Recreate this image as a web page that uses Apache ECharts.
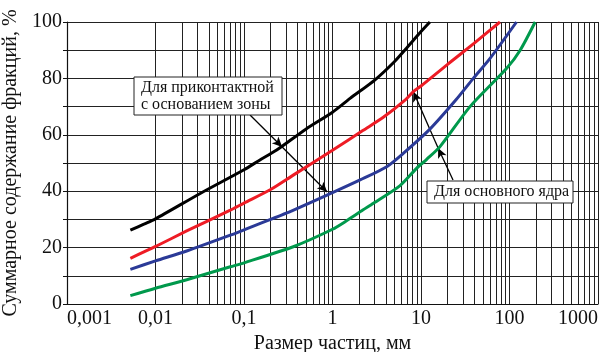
<!DOCTYPE html>
<html>
<head>
<meta charset="utf-8">
<script src="https://cdn.jsdelivr.net/npm/echarts@6/dist/echarts.min.js"></script>
<style>
html,body{margin:0;padding:0;background:#fff;}
#c{width:608px;height:352px;}
</style>
</head>
<body>
<div id="c"></div>
<script>
// ---- data ----
var xTickLabels = ['0,001', '0,01', '0,1', '1', '10', '100', '1000'];
var yTickLabels = ['0', '20', '40', '60', '80', '100'];

var blackX = [0.0052, 0.0075, 0.01, 0.032, 0.1, 0.15, 0.234, 0.5, 1, 1.58, 3, 5, 6.9, 10, 12.6];
var blackY = [26.2, 28.4, 30.2, 39.2, 47.6, 51.0, 54.6, 62.0, 68.0, 72.9, 79.4, 85.9, 90.8, 96.6, 100];

var redX = [0.0052, 0.01, 0.0225, 0.07, 0.1, 0.2, 0.36, 1, 2.2, 3.75, 6.6, 8.2, 10, 20, 40, 78];
var redY = [16.2, 20.4, 25.9, 33.3, 35.8, 40.6, 45.7, 54.5, 61.5, 66.2, 72.3, 75.3, 77.3, 85.0, 92.5, 100];

var blueX = [0.0052, 0.01, 0.0225, 0.07, 0.1, 0.3, 1, 2.05, 4.1, 6.3, 12.6, 25, 39, 60, 120];
var blueY = [12.3, 15.3, 18.8, 24.4, 26.3, 32.2, 39.5, 44.0, 48.7, 53.4, 62.0, 72.5, 80.0, 87.0, 100];

var greenX = [0.0052, 0.01, 0.0225, 0.07, 0.1, 0.36, 1, 1.44, 2.2, 2.9, 5.8, 8.9, 11.6, 16.4, 35.8, 93, 132, 195];
var greenY = [2.95, 5.6, 8.6, 13.2, 14.6, 20.3, 26.5, 29.5, 33.3, 35.7, 42.0, 48.1, 51.3, 55.8, 70.0, 83.6, 90.0, 100];

// annotation anchor points (data space): start, mid crossing, end
var noteContactPts = [[0.117, 67.0], [0.27, 55.7], [0.87, 39.7]];
var noteCorePts = [[23, 44.0], [15.6, 55.3], [8.2, 75.3]];
var noteContactText = 'Для приконтактной\nс основанием зоны';
var noteCoreText = 'Для основного ядра';

var xName = 'Размер частиц, мм';
var yName = 'Суммарное содержание фракций, %';

// ---- helpers ----
function pairs(xs, ys) { return xs.map(function (x, i) { return [x, ys[i]]; }); }
var minorX = [];
for (var k = -3; k <= 2; k++) {
  for (var m = 2; m <= 9; m++) {
    minorX.push(Number((m * Math.pow(10, k)).toPrecision(3)));
  }
}
var FONT = 'Liberation Serif';

var chart = echarts.init(document.getElementById('c'), null, { renderer: 'canvas' });

function arrowSeg(a, b) {
  return [{ coord: a, symbol: 'none' }, { coord: b, symbol: 'arrow' }];
}

var lineStyleCommon = { width: 3 };

var option = {
  animation: false,
  backgroundColor: '#fff',
  textStyle: { fontFamily: FONT },
  grid: { left: 67, right: 10, top: 22, bottom: 48, containLabel: false, outerBoundsMode: 'none' },
  xAxis: {
    type: 'log',
    logBase: 10,
    min: 0.001,
    max: 1000,
    name: xName,
    nameLocation: 'middle',
    nameGap: 27,
    nameTextStyle: { fontFamily: FONT, fontSize: 20, color: '#111' },
    axisLine: { show: true, lineStyle: { color: '#111', width: 1.2 } },
    axisTick: { show: false },
    axisLabel: {
      fontFamily: FONT, fontSize: 20, color: '#111', margin: 5,
      alignMinLabel: 'left', alignMaxLabel: 'right',
      formatter: function (v) {
        var idx = Math.round(Math.log10(v)) + 3;
        return xTickLabels[idx] !== undefined ? xTickLabels[idx] : '';
      }
    },
    splitLine: { show: true, lineStyle: { color: '#222', width: 1 } }
  },
  yAxis: {
    type: 'value',
    min: 0,
    max: 100,
    interval: 10,
    name: yName,
    nameLocation: 'middle',
    nameGap: 44,
    nameTextStyle: { fontFamily: FONT, fontSize: 20, color: '#111' },
    axisLine: { show: true, lineStyle: { color: '#111', width: 1.2 } },
    axisTick: { show: true, length: 4, lineStyle: { color: '#111' } },
    axisLabel: {
      fontFamily: FONT, fontSize: 20, color: '#111', margin: 5,
      formatter: function (v) {
        var s = String(Math.round(v));
        return yTickLabels.indexOf(s) >= 0 ? s : '';
      }
    },
    splitLine: { show: true, lineStyle: { color: '#222', width: 1 } }
  },
  series: [
    {
      name: 'minorGrid', type: 'line', data: [], silent: true, z: 1,
      markLine: {
        silent: true, symbol: 'none', animation: false,
        label: { show: false },
        lineStyle: { color: '#222', width: 1, type: 'solid' },
        data: minorX.map(function (v) { return { xAxis: v }; })
      }
    },
    { name: 'black', type: 'line', data: pairs(blackX, blackY), showSymbol: false, smooth: 0.25, z: 5,
      lineStyle: Object.assign({ color: '#000000' }, lineStyleCommon) },
    { name: 'red', type: 'line', data: pairs(redX, redY), showSymbol: false, smooth: 0.25, z: 5,
      lineStyle: Object.assign({ color: '#ee1c25' }, lineStyleCommon) },
    { name: 'blue', type: 'line', data: pairs(blueX, blueY), showSymbol: false, smooth: 0.25, z: 5,
      lineStyle: Object.assign({ color: '#2b3a97' }, lineStyleCommon) },
    { name: 'green', type: 'line', data: pairs(greenX, greenY), showSymbol: false, smooth: 0.25, z: 5,
      lineStyle: Object.assign({ color: '#00994c' }, lineStyleCommon) },
    {
      name: 'arrows', type: 'line', data: [], silent: true, z: 8,
      markLine: {
        silent: true, animation: false,
        symbolSize: [7, 10],
        label: { show: false },
        lineStyle: { color: '#000', width: 1.3, type: 'solid' },
        data: [
          arrowSeg(noteContactPts[0], noteContactPts[1]),
          arrowSeg(noteContactPts[1], noteContactPts[2]),
          arrowSeg(noteCorePts[0], noteCorePts[1]),
          arrowSeg(noteCorePts[1], noteCorePts[2])
        ]
      }
    }
  ],
  graphic: [
    { type: 'rect', z: 100, zlevel: 1, shape: { x: 134, y: 77, width: 148, height: 38 },
      style: { fill: '#fff', stroke: '#222', lineWidth: 1 } },
    { type: 'text', z: 101, zlevel: 1, x: 141, y: 79,
      style: { text: noteContactText, font: '16px ' + FONT, fill: '#111', lineHeight: 17 } },
    { type: 'rect', z: 100, zlevel: 1, shape: { x: 427, y: 181, width: 146, height: 22 },
      style: { fill: '#fff', stroke: '#222', lineWidth: 1 } },
    { type: 'text', z: 101, zlevel: 1, x: 434, y: 183,
      style: { text: noteCoreText, font: '16px ' + FONT, fill: '#111', lineHeight: 17 } }
  ]
};
chart.setOption(option);
</script>
</body>
</html>
